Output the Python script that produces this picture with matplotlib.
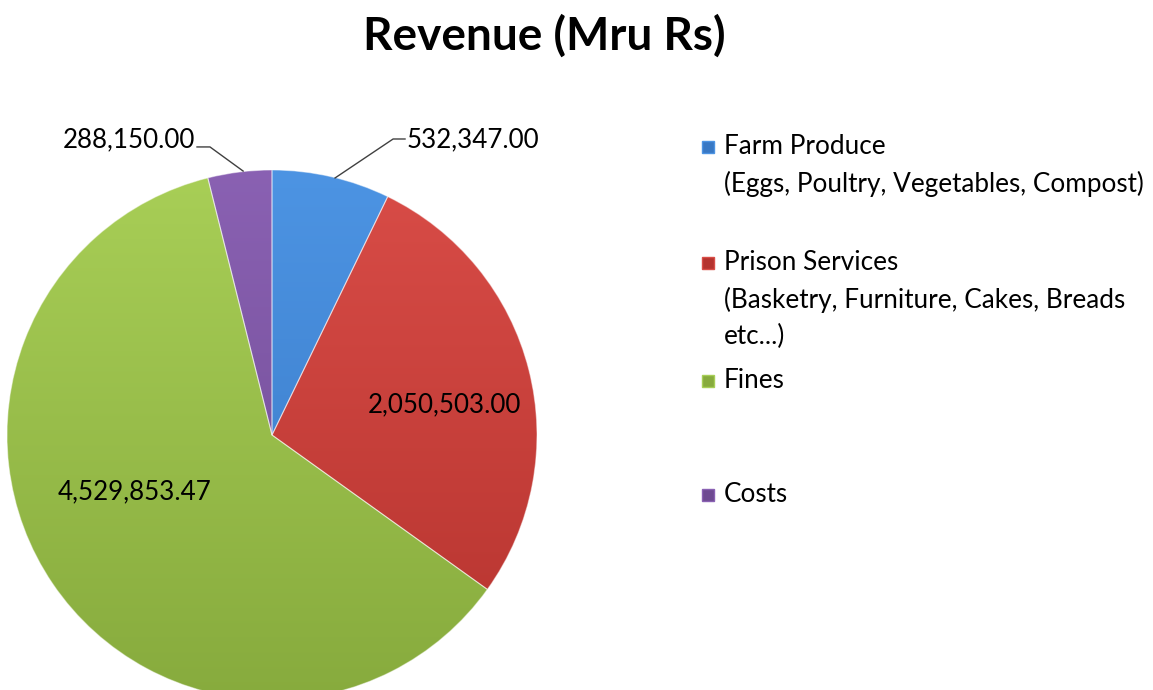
import numpy as np
import matplotlib
matplotlib.use("Agg")
import matplotlib.pyplot as plt
from matplotlib.patches import Rectangle

categories = ["Farm Produce", "Prison Services", "Fines", "Costs"]
legend_lines = [
    ["Farm Produce", "(Eggs, Poultry, Vegetables, Compost)"],
    ["Prison Services", "(Basketry, Furniture, Cakes, Breads", "etc...)"],
    ["Fines"],
    ["Costs"],
]
values = [532347.00, 2050503.00, 4529853.47, 288150.00]
title = "Revenue (Mru Rs)"

top_colors = [(0.30, 0.58, 0.89), (0.85, 0.30, 0.28), (0.66, 0.81, 0.34), (0.54, 0.38, 0.70)]
bot_colors = [(0.22, 0.47, 0.77), (0.71, 0.20, 0.18), (0.53, 0.67, 0.24), (0.43, 0.29, 0.57)]

plt.rcParams['font.family'] = ['Lato', 'DejaVu Sans']

W, H = 1153, 690
fig = plt.figure(figsize=(W / 100, H / 100), dpi=100)
cx, cy, r = 272, 435, 265
ax = fig.add_axes([(cx - r) / W, (H - cy - r) / H, 2 * r / W, 2 * r / H])
ax.set_xlim(-1, 1)
ax.set_ylim(-1, 1)
ax.axis('off')

wedges, _ = ax.pie(values, startangle=90, counterclock=False, radius=1,
                   colors=[c for c in bot_colors],
                   wedgeprops=dict(linewidth=0.8, edgecolor='white'))
ax.set_xlim(-1, 1)
ax.set_ylim(-1, 1)

# gradient fill clipped to each wedge
ny = 200
for w, tc, bc in zip(wedges, top_colors, bot_colors):
    t = np.linspace(0, 1, ny)[:, None]
    grad = np.zeros((ny, 2, 3))
    for k in range(3):
        grad[:, :, k] = bc[k] + (tc[k] - bc[k]) * t
    im = ax.imshow(grad, extent=[-1, 1, -1, 1], origin='lower', aspect='auto', zorder=w.get_zorder() + 0.1)
    im.set_clip_path(w)
    w.set_facecolor('none')
    w.set_edgecolor((1, 1, 1, 0.45))
    w.set_zorder(w.get_zorder() + 0.2)
ax.set_xlim(-1, 1)
ax.set_ylim(-1, 1)

def fmt(v):
    return f"{v:,.2f}"

lfs = 18.7
# data labels
ax.text(0.649, 0.087, fmt(values[1]), ha='center', va='baseline', fontsize=lfs, color='black')
ax.text(-0.517, -0.215, fmt(values[2]), ha='center', va='center', fontsize=lfs, color='black')
ax.text(0.509, 1.087, fmt(values[0]), ha='left', va='baseline', fontsize=lfs, color='black')
ax.text(-0.291, 1.087, fmt(values[3]), ha='right', va='baseline', fontsize=lfs, color='black')
ax.plot([0.238, 0.457, 0.502], [0.970, 1.117, 1.117], color='#404040', lw=1, clip_on=False)
ax.plot([-0.109, -0.234, -0.283], [0.996, 1.087, 1.087], color='#404040', lw=1, clip_on=False)

fig.text(544 / W, 1 - 36 / H, title, ha='center', va='center', fontsize=33, fontweight='bold')

# legend
entry_y = [147, 263, 381, 495]
line_h = 36.5
for ys, lines, tc, bc in zip(entry_y, legend_lines, top_colors, bot_colors):
    fig.patches.append(Rectangle(((702) / W, (H - ys - 6) / H), 12 / W, 12 / H,
                                 transform=fig.transFigure, facecolor=bc, edgecolor=tc, lw=1))
    for i, ln in enumerate(lines):
        fig.text(724 / W, 1 - (ys + i * line_h) / H, ln, ha='left', va='center', fontsize=18.8)

fig.savefig("out.png", dpi=100, facecolor='white')
